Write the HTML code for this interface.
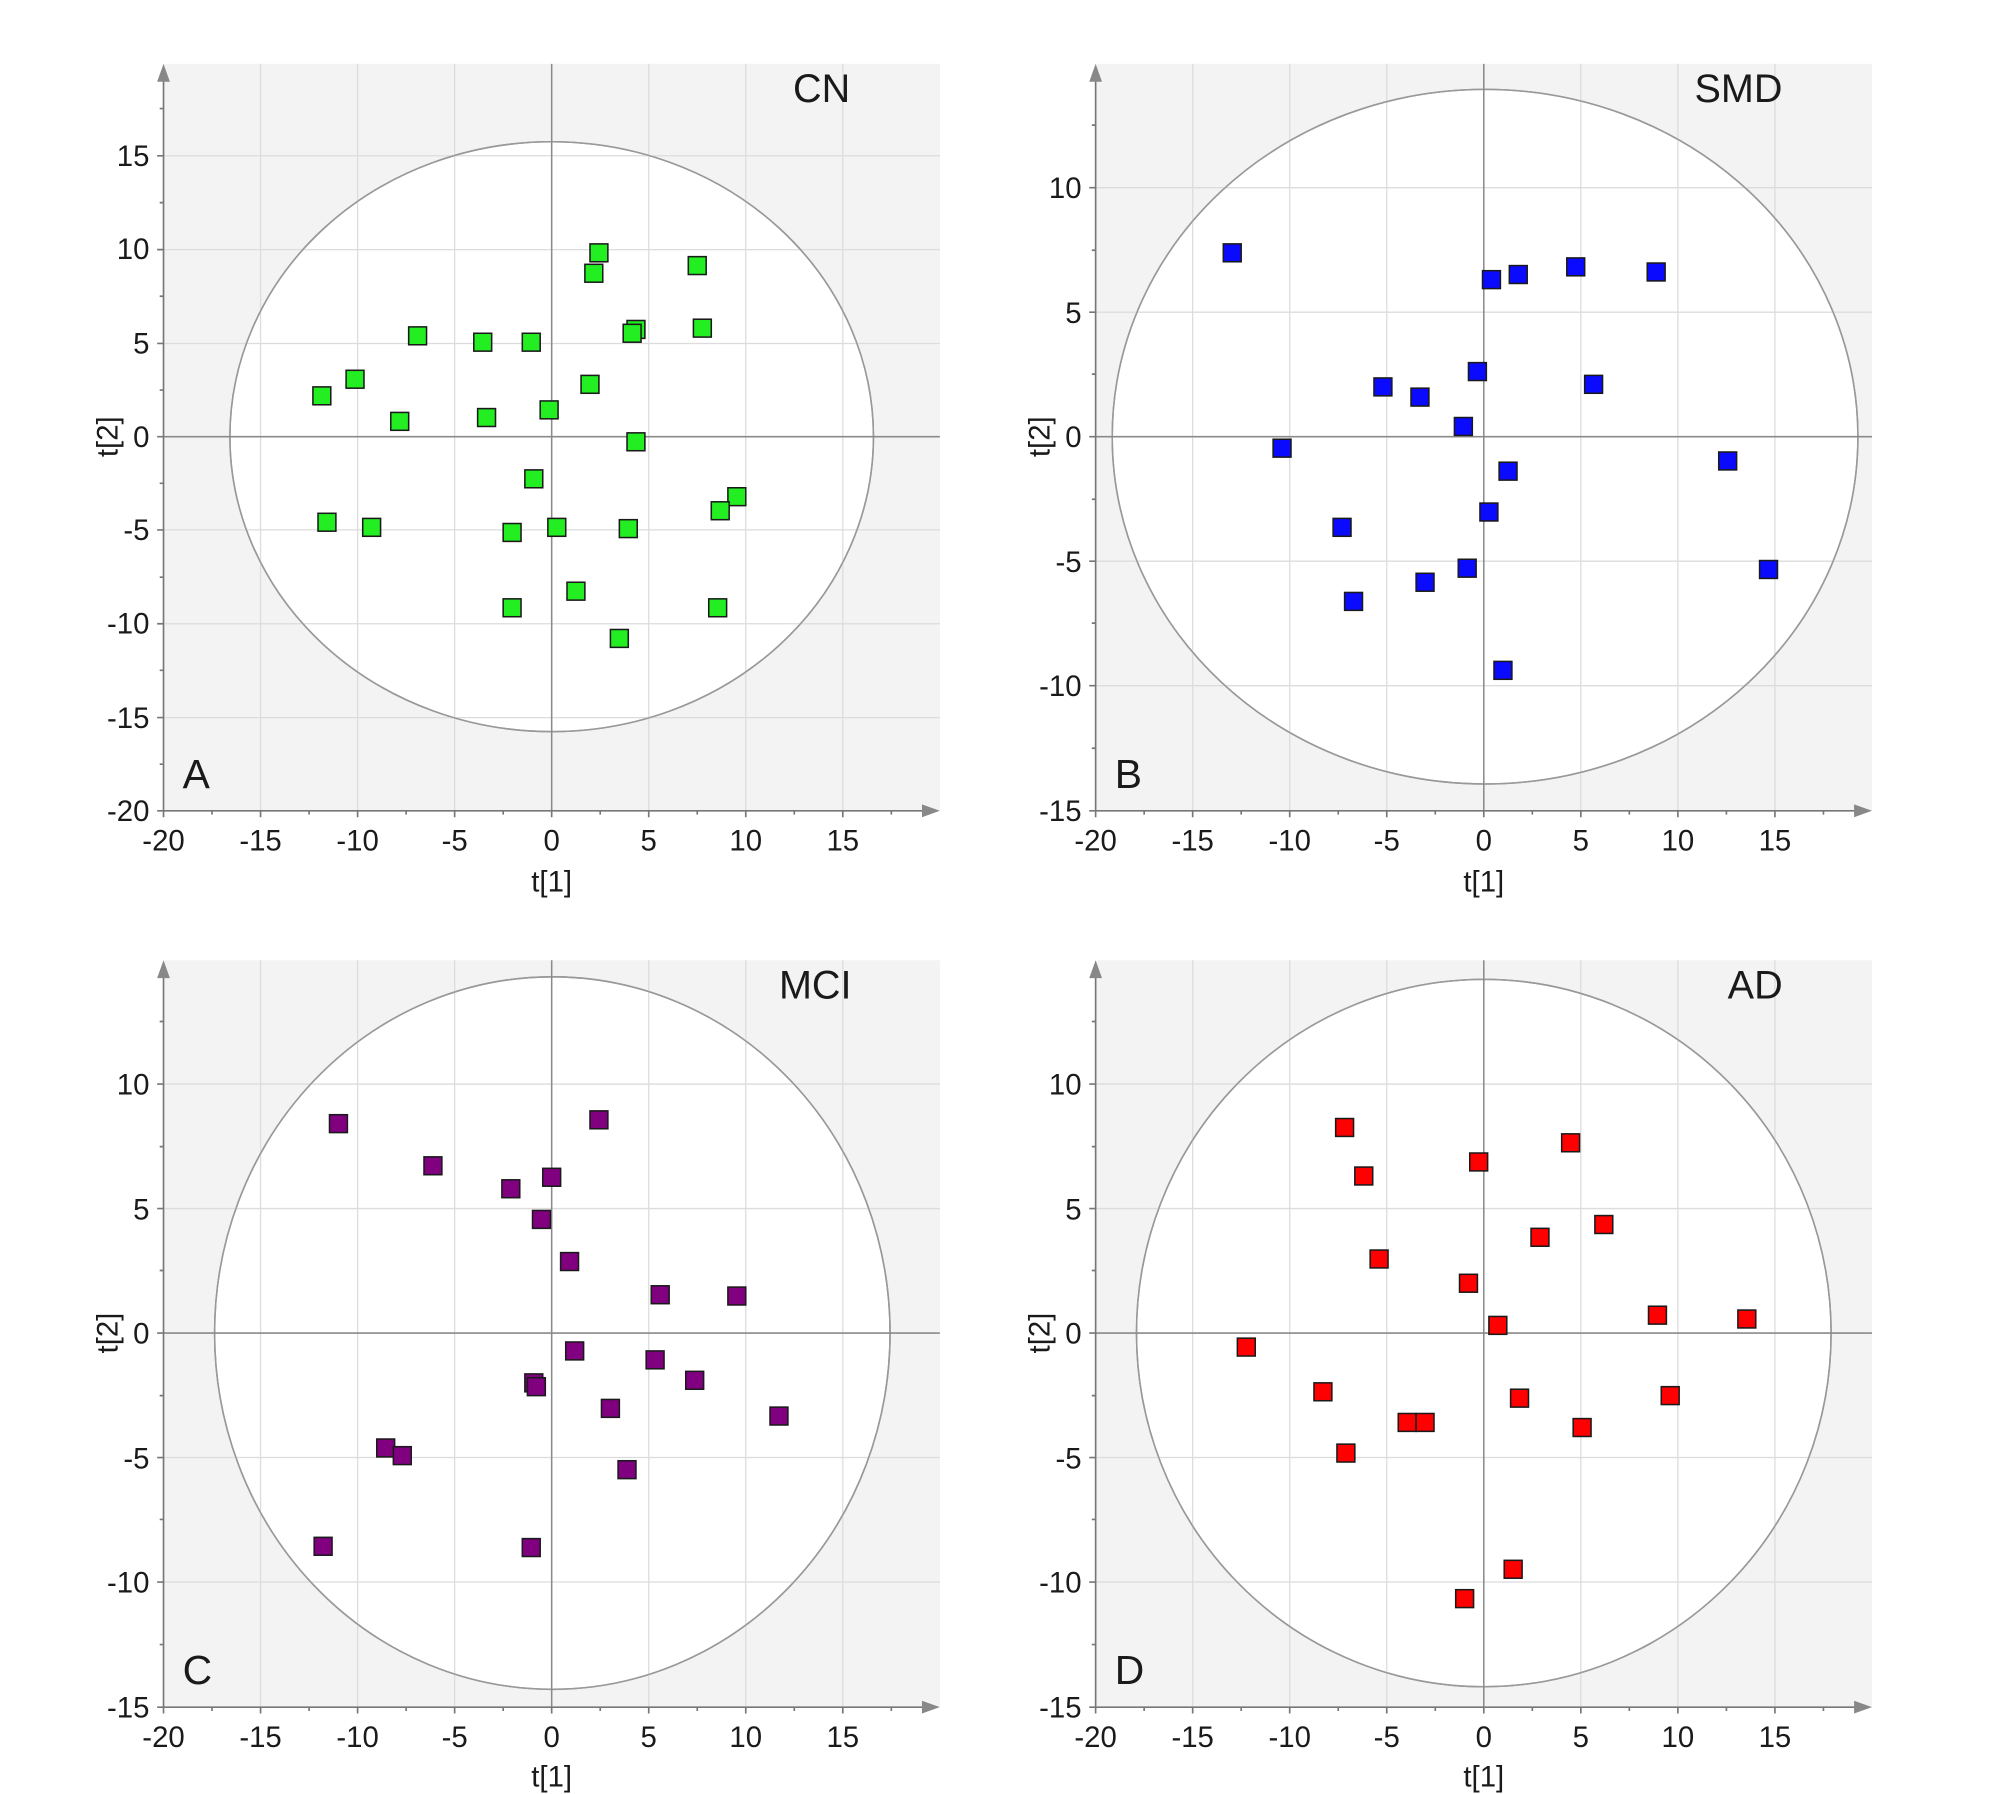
<!DOCTYPE html>
<html><head><meta charset="utf-8"><style>
html,body{margin:0;padding:0;background:#fff}
svg{display:block}
text{font-family:"Liberation Sans",Arial,sans-serif;fill:#1a1a1a}
.g{stroke:#dcdcdc;stroke-width:1}
.ax{stroke:#777;stroke-width:1.3;fill:none}
.z{stroke:#8a8a8a;stroke-width:1.2}
.el{fill:#fff;stroke:#999;stroke-width:1.2}
.tk{font-size:23px}
.tr{text-anchor:end}
.tm{text-anchor:middle}
.lab{font-size:32px}
.t{font-size:31px}
</style></head><body>
<svg width="2001" height="1794" viewBox="0 0 1567 1405" xmlns="http://www.w3.org/2000/svg">
<!-- Panel A -->
<rect x="128" y="50" width="608" height="585" fill="#f3f3f3"/>
<ellipse class="el" cx="432" cy="342" rx="252" ry="231"/>
<g class="g"><line x1="204" y1="50" x2="204" y2="635"/><line x1="280" y1="50" x2="280" y2="635"/><line x1="356" y1="50" x2="356" y2="635"/><line x1="508" y1="50" x2="508" y2="635"/><line x1="584" y1="50" x2="584" y2="635"/><line x1="660" y1="50" x2="660" y2="635"/>
<line x1="128" y1="122" x2="736" y2="122"/><line x1="128" y1="195.5" x2="736" y2="195.5"/><line x1="128" y1="269" x2="736" y2="269"/><line x1="128" y1="415" x2="736" y2="415"/><line x1="128" y1="488.5" x2="736" y2="488.5"/><line x1="128" y1="562" x2="736" y2="562"/></g>
<ellipse cx="432" cy="342" rx="252" ry="231" fill="none" stroke="#999" stroke-width="1.2"/>
<line class="z" x1="432" y1="50" x2="432" y2="635"/><line class="z" x1="128" y1="342" x2="736" y2="342"/>
<path class="ax" d="M128 635V62M128 635H724"/>
<path d="M128 50l-5 14h10z M736 635l-14 -5v10z" fill="#888"/>
<path class="ax" d="M123 122h5M123 195.5h5M123 269h5M123 342h5M123 415h5M123 488.5h5M123 562h5M123 635h5M125 85h3M125 158.7h3M125 232h3M125 305.5h3M125 378.5h3M125 452h3M125 525h3M125 598.5h3
M128 635v5M204 635v5M280 635v5M356 635v5M432 635v5M508 635v5M584 635v5M660 635v5M166 635v3M242 635v3M318 635v3M394 635v3M470 635v3M546 635v3M622 635v3M698 635v3"/>
<g class="tk tr"><text x="117" y="130">15</text><text x="117" y="203">10</text><text x="117" y="277">5</text><text x="117" y="350">0</text><text x="117" y="423">-5</text><text x="117" y="496">-10</text><text x="117" y="570">-15</text><text x="117" y="643">-20</text></g>
<g class="tk tm"><text x="128" y="666">-20</text><text x="204" y="666">-15</text><text x="280" y="666">-10</text><text x="356" y="666">-5</text><text x="432" y="666">0</text><text x="508" y="666">5</text><text x="584" y="666">10</text><text x="660" y="666">15</text><text x="432" y="698">t[1]</text></g>
<text class="tk tm" transform="translate(92,342) rotate(-90)">t[2]</text>
<text class="lab" x="143" y="617">A</text><text class="t" x="621" y="80">CN</text>
<g fill="#22ee22" stroke="#1a1a1a" stroke-width="1.2">
<rect x="245" y="303" width="14" height="14"/><rect x="271" y="290" width="14" height="14"/><rect x="306" y="323" width="14" height="14"/><rect x="320" y="256" width="14" height="14"/><rect x="371" y="261" width="14" height="14"/><rect x="374" y="320" width="14" height="14"/><rect x="409" y="261" width="14" height="14"/><rect x="423" y="314" width="14" height="14"/><rect x="455" y="294" width="14" height="14"/><rect x="458" y="207" width="14" height="14"/><rect x="462" y="191" width="14" height="14"/><rect x="491" y="251" width="14" height="14"/><rect x="488" y="254" width="14" height="14"/><rect x="491" y="339" width="14" height="14"/><rect x="539" y="201" width="14" height="14"/><rect x="543" y="250" width="14" height="14"/><rect x="411" y="368" width="14" height="14"/><rect x="249" y="402" width="14" height="14"/><rect x="284" y="406" width="14" height="14"/><rect x="394" y="410" width="14" height="14"/><rect x="429" y="406" width="14" height="14"/><rect x="485" y="407" width="14" height="14"/><rect x="570" y="382" width="14" height="14"/><rect x="557" y="393" width="14" height="14"/><rect x="444" y="456" width="14" height="14"/><rect x="394" y="469" width="14" height="14"/><rect x="555" y="469" width="14" height="14"/><rect x="478" y="493" width="14" height="14"/></g>

<!-- Panel B -->
<rect x="858" y="50" width="608" height="585" fill="#f3f3f3"/>
<ellipse class="el" cx="1163" cy="342" rx="292" ry="272"/>
<g class="g"><line x1="934" y1="50" x2="934" y2="635"/><line x1="1010" y1="50" x2="1010" y2="635"/><line x1="1086" y1="50" x2="1086" y2="635"/><line x1="1238" y1="50" x2="1238" y2="635"/><line x1="1314" y1="50" x2="1314" y2="635"/><line x1="1390" y1="50" x2="1390" y2="635"/>
<line x1="858" y1="147" x2="1466" y2="147"/><line x1="858" y1="244.5" x2="1466" y2="244.5"/><line x1="858" y1="439.5" x2="1466" y2="439.5"/><line x1="858" y1="537" x2="1466" y2="537"/></g>
<ellipse cx="1163" cy="342" rx="292" ry="272" fill="none" stroke="#999" stroke-width="1.2"/>
<line class="z" x1="1162" y1="50" x2="1162" y2="635"/><line class="z" x1="858" y1="342" x2="1466" y2="342"/>
<path class="ax" d="M858 635V62M858 635H1454"/>
<path d="M858 50l-5 14h10z M1466 635l-14 -5v10z" fill="#888"/>
<path class="ax" d="M853 147h5M853 244.5h5M853 342h5M853 439.5h5M853 537h5M853 635h5M855 98h3M855 196h3M855 293h3M855 391h3M855 488h3M855 586h3
M858 635v5M934 635v5M1010 635v5M1086 635v5M1162 635v5M1238 635v5M1314 635v5M1390 635v5M896 635v3M972 635v3M1048 635v3M1124 635v3M1200 635v3M1276 635v3M1352 635v3M1428 635v3"/>
<g class="tk tr"><text x="847" y="155">10</text><text x="847" y="253">5</text><text x="847" y="350">0</text><text x="847" y="448">-5</text><text x="847" y="545">-10</text><text x="847" y="643">-15</text></g>
<g class="tk tm"><text x="858" y="666">-20</text><text x="934" y="666">-15</text><text x="1010" y="666">-10</text><text x="1086" y="666">-5</text><text x="1162" y="666">0</text><text x="1238" y="666">5</text><text x="1314" y="666">10</text><text x="1390" y="666">15</text><text x="1162" y="698">t[1]</text></g>
<text class="tk tm" transform="translate(822,342) rotate(-90)">t[2]</text>
<text class="lab" x="873" y="617">B</text><text class="t" x="1327" y="80">SMD</text>
<g fill="#0a0aff" stroke="#1a1a1a" stroke-width="1.2">
<rect x="958" y="191" width="14" height="14"/><rect x="1161" y="212" width="14" height="14"/><rect x="1182" y="208" width="14" height="14"/><rect x="1227" y="202" width="14" height="14"/><rect x="1290" y="206" width="14" height="14"/><rect x="1076" y="296" width="14" height="14"/><rect x="1105" y="304" width="14" height="14"/><rect x="1150" y="284" width="14" height="14"/><rect x="1241" y="294" width="14" height="14"/><rect x="1139" y="327" width="14" height="14"/><rect x="997" y="344" width="14" height="14"/><rect x="1174" y="362" width="14" height="14"/><rect x="1346" y="354" width="14" height="14"/><rect x="1044" y="406" width="14" height="14"/><rect x="1159" y="394" width="14" height="14"/><rect x="1142" y="438" width="14" height="14"/><rect x="1378" y="439" width="14" height="14"/><rect x="1053" y="464" width="14" height="14"/><rect x="1109" y="449" width="14" height="14"/><rect x="1170" y="518" width="14" height="14"/></g>

<!-- Panel C -->
<rect x="128" y="752" width="608" height="585" fill="#f3f3f3"/>
<ellipse class="el" cx="432.5" cy="1044" rx="264.5" ry="279"/>
<g class="g"><line x1="204" y1="752" x2="204" y2="1337"/><line x1="280" y1="752" x2="280" y2="1337"/><line x1="356" y1="752" x2="356" y2="1337"/><line x1="508" y1="752" x2="508" y2="1337"/><line x1="584" y1="752" x2="584" y2="1337"/><line x1="660" y1="752" x2="660" y2="1337"/>
<line x1="128" y1="849" x2="736" y2="849"/><line x1="128" y1="946.5" x2="736" y2="946.5"/><line x1="128" y1="1141.5" x2="736" y2="1141.5"/><line x1="128" y1="1239" x2="736" y2="1239"/></g>
<ellipse cx="432.5" cy="1044" rx="264.5" ry="279" fill="none" stroke="#999" stroke-width="1.2"/>
<line class="z" x1="432" y1="752" x2="432" y2="1337"/><line class="z" x1="128" y1="1044" x2="736" y2="1044"/>
<path class="ax" d="M128 1337V764M128 1337H724"/>
<path d="M128 752l-5 14h10z M736 1337l-14 -5v10z" fill="#888"/>
<path class="ax" d="M123 849h5M123 946.5h5M123 1044h5M123 1141.5h5M123 1239h5M123 1337h5M125 800h3M125 898h3M125 995h3M125 1093h3M125 1190h3M125 1288h3
M128 1337v5M204 1337v5M280 1337v5M356 1337v5M432 1337v5M508 1337v5M584 1337v5M660 1337v5M166 1337v3M242 1337v3M318 1337v3M394 1337v3M470 1337v3M546 1337v3M622 1337v3M698 1337v3"/>
<g class="tk tr"><text x="117" y="857">10</text><text x="117" y="955">5</text><text x="117" y="1052">0</text><text x="117" y="1150">-5</text><text x="117" y="1247">-10</text><text x="117" y="1345">-15</text></g>
<g class="tk tm"><text x="128" y="1368">-20</text><text x="204" y="1368">-15</text><text x="280" y="1368">-10</text><text x="356" y="1368">-5</text><text x="432" y="1368">0</text><text x="508" y="1368">5</text><text x="584" y="1368">10</text><text x="660" y="1368">15</text><text x="432" y="1399">t[1]</text></g>
<text class="tk tm" transform="translate(92,1044) rotate(-90)">t[2]</text>
<text class="lab" x="143" y="1319">C</text><text class="t" x="610" y="782">MCI</text>
<g fill="#800080" stroke="#1a1a1a" stroke-width="1.2">
<rect x="258" y="873" width="14" height="14"/><rect x="332" y="906" width="14" height="14"/><rect x="393" y="924" width="14" height="14"/><rect x="425" y="915" width="14" height="14"/><rect x="462" y="870" width="14" height="14"/><rect x="417" y="948" width="14" height="14"/><rect x="439" y="981" width="14" height="14"/><rect x="510" y="1007" width="14" height="14"/><rect x="570" y="1008" width="14" height="14"/><rect x="443" y="1051" width="14" height="14"/><rect x="506" y="1058" width="14" height="14"/><rect x="537" y="1074" width="14" height="14"/><rect x="411" y="1076" width="14" height="14"/><rect x="413" y="1079" width="14" height="14"/><rect x="471" y="1096" width="14" height="14"/><rect x="603" y="1102" width="14" height="14"/><rect x="484" y="1144" width="14" height="14"/><rect x="295" y="1127" width="14" height="14"/><rect x="308" y="1133" width="14" height="14"/><rect x="246" y="1204" width="14" height="14"/><rect x="409" y="1205" width="14" height="14"/></g>

<!-- Panel D -->
<rect x="858" y="752" width="608" height="585" fill="#f3f3f3"/>
<ellipse class="el" cx="1162" cy="1044" rx="272" ry="277"/>
<g class="g"><line x1="934" y1="752" x2="934" y2="1337"/><line x1="1010" y1="752" x2="1010" y2="1337"/><line x1="1086" y1="752" x2="1086" y2="1337"/><line x1="1238" y1="752" x2="1238" y2="1337"/><line x1="1314" y1="752" x2="1314" y2="1337"/><line x1="1390" y1="752" x2="1390" y2="1337"/>
<line x1="858" y1="849" x2="1466" y2="849"/><line x1="858" y1="946.5" x2="1466" y2="946.5"/><line x1="858" y1="1141.5" x2="1466" y2="1141.5"/><line x1="858" y1="1239" x2="1466" y2="1239"/></g>
<ellipse cx="1162" cy="1044" rx="272" ry="277" fill="none" stroke="#999" stroke-width="1.2"/>
<line class="z" x1="1162" y1="752" x2="1162" y2="1337"/><line class="z" x1="858" y1="1044" x2="1466" y2="1044"/>
<path class="ax" d="M858 1337V764M858 1337H1454"/>
<path d="M858 752l-5 14h10z M1466 1337l-14 -5v10z" fill="#888"/>
<path class="ax" d="M853 849h5M853 946.5h5M853 1044h5M853 1141.5h5M853 1239h5M853 1337h5M855 800h3M855 898h3M855 995h3M855 1093h3M855 1190h3M855 1288h3
M858 1337v5M934 1337v5M1010 1337v5M1086 1337v5M1162 1337v5M1238 1337v5M1314 1337v5M1390 1337v5M896 1337v3M972 1337v3M1048 1337v3M1124 1337v3M1200 1337v3M1276 1337v3M1352 1337v3M1428 1337v3"/>
<g class="tk tr"><text x="847" y="857">10</text><text x="847" y="955">5</text><text x="847" y="1052">0</text><text x="847" y="1150">-5</text><text x="847" y="1247">-10</text><text x="847" y="1345">-15</text></g>
<g class="tk tm"><text x="858" y="1368">-20</text><text x="934" y="1368">-15</text><text x="1010" y="1368">-10</text><text x="1086" y="1368">-5</text><text x="1162" y="1368">0</text><text x="1238" y="1368">5</text><text x="1314" y="1368">10</text><text x="1390" y="1368">15</text><text x="1162" y="1399">t[1]</text></g>
<text class="tk tm" transform="translate(822,1044) rotate(-90)">t[2]</text>
<text class="lab" x="873" y="1319">D</text><text class="t" x="1353" y="782">AD</text>
<g fill="#ff0000" stroke="#1a1a1a" stroke-width="1.2">
<rect x="1046" y="876" width="14" height="14"/><rect x="1061" y="914" width="14" height="14"/><rect x="1151" y="903" width="14" height="14"/><rect x="1223" y="888" width="14" height="14"/><rect x="1073" y="979" width="14" height="14"/><rect x="1199" y="962" width="14" height="14"/><rect x="1249" y="952" width="14" height="14"/><rect x="1143" y="998" width="14" height="14"/><rect x="1166" y="1031" width="14" height="14"/><rect x="1291" y="1023" width="14" height="14"/><rect x="1361" y="1026" width="14" height="14"/><rect x="969" y="1048" width="14" height="14"/><rect x="1029" y="1083" width="14" height="14"/><rect x="1047" y="1131" width="14" height="14"/><rect x="1095" y="1107" width="14" height="14"/><rect x="1109" y="1107" width="14" height="14"/><rect x="1183" y="1088" width="14" height="14"/><rect x="1232" y="1111" width="14" height="14"/><rect x="1301" y="1086" width="14" height="14"/><rect x="1178" y="1222" width="14" height="14"/><rect x="1140" y="1245" width="14" height="14"/></g>
</svg>
</body></html>
